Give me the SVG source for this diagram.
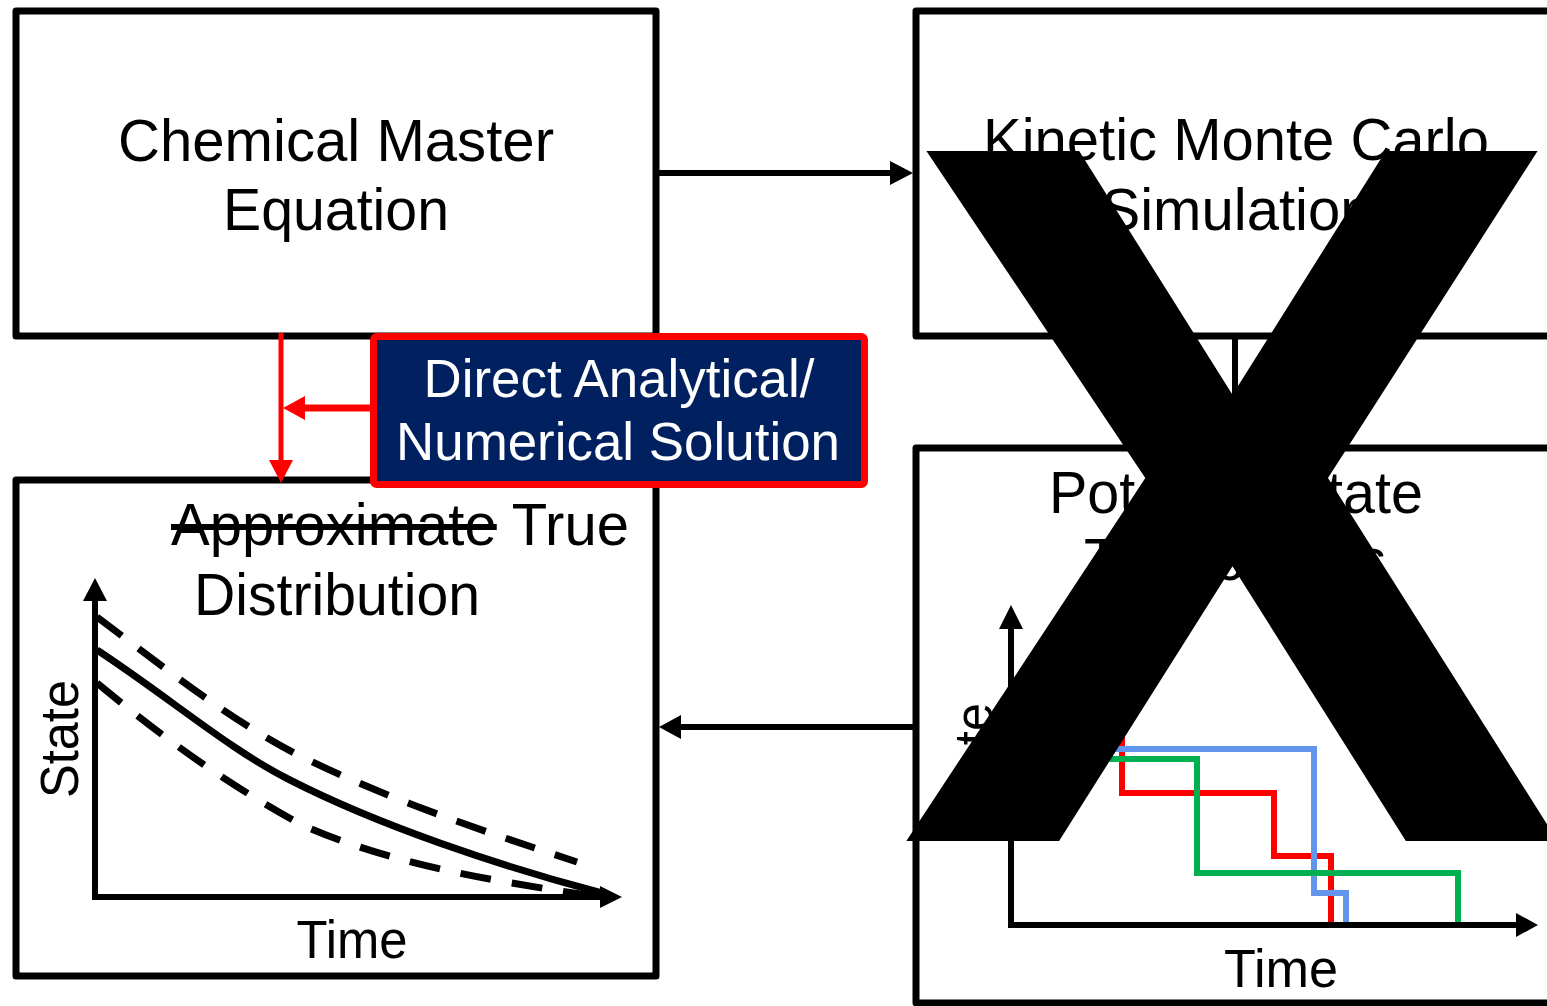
<svg xmlns="http://www.w3.org/2000/svg" width="1547" height="1006" viewBox="0 0 1547 1006">
  <style>
    .box { fill: #ffffff; stroke: #000000; stroke-width: 7; stroke-linejoin: round; }
    .lbl { font-family: "Liberation Sans", Arial, sans-serif; font-size: 60px; fill: #000000; text-anchor: middle; }
    .axl { font-family: "Liberation Sans", Arial, sans-serif; font-size: 53px; fill: #000000; text-anchor: middle; }
    .wht { font-family: "Liberation Sans", Arial, sans-serif; font-size: 53px; fill: #ffffff; text-anchor: middle; }
    .conn { stroke: #000000; stroke-width: 6; fill: none; }
    .red { stroke: #ff0000; fill: none; }
    .axis { stroke: #000000; stroke-width: 6; fill: none; }
    .curve { stroke: #000000; stroke-width: 7; fill: none; }
    .dash { stroke: #000000; stroke-width: 7; fill: none; stroke-dasharray: 31 21; }
    .traj { stroke-width: 6; fill: none; }
  </style>

  <rect width="1547" height="1006" fill="#ffffff"/>

  <!-- Chemical Master Equation -->
  <g id="cme">
    <rect class="box" x="16" y="11" width="640" height="325"/>
    <text class="lbl" x="336" y="161" textLength="436" lengthAdjust="spacingAndGlyphs">Chemical Master</text>
    <text class="lbl" x="336" y="230" textLength="226" lengthAdjust="spacingAndGlyphs">Equation</text>
  </g>

  <!-- Kinetic Monte Carlo Simulation -->
  <g id="kmc">
    <rect class="box" x="916" y="11" width="640" height="325"/>
    <text class="lbl" x="1236" y="160" textLength="506" lengthAdjust="spacingAndGlyphs">Kinetic Monte Carlo</text>
    <text class="lbl" x="1237" y="230" textLength="271" lengthAdjust="spacingAndGlyphs">Simulation</text>
  </g>

  <!-- True Distribution -->
  <g id="distribution">
    <rect class="box" x="16" y="480" width="640" height="496"/>
    <text class="lbl" x="171" y="545" style="text-anchor:start" textLength="458" lengthAdjust="spacingAndGlyphs"><tspan text-decoration="line-through">Approximate</tspan> True</text>
    <text class="lbl" x="337" y="615" textLength="286" lengthAdjust="spacingAndGlyphs">Distribution</text>
    <!-- axes -->
    <line class="axis" x1="95" y1="897" x2="95" y2="598"/>
    <polygon points="95,578 83,601 107,601" fill="#000000"/>
    <line class="axis" x1="92" y1="897" x2="602" y2="897"/>
    <polygon points="622,897 600,886 600,908" fill="#000000"/>
    <!-- mean and spread -->
    <path class="curve" d="M97,650 C170,698 230,750 290,780 C380,826 500,866 602,893"/>
    <path class="dash" d="M97,617 C170,672 230,720 300,756 C390,800 480,830 577,862"/>
    <path class="dash" d="M97,683 C160,735 220,780 300,824 C380,860 470,878 600,897"/>
    <text class="axl" transform="translate(78,739) rotate(-90)" textLength="118" lengthAdjust="spacingAndGlyphs">State</text>
    <text class="axl" x="352" y="958" textLength="111" lengthAdjust="spacingAndGlyphs">Time</text>
  </g>

  <!-- Potential State Trajectories -->
  <g id="trajectories">
    <rect class="box" x="916" y="448" width="640" height="555"/>
    <text class="lbl" x="1236" y="513" textLength="374" lengthAdjust="spacingAndGlyphs">Potential State</text>
    <text class="lbl" x="1235" y="580" textLength="302" lengthAdjust="spacingAndGlyphs">Trajectories</text>
    <text class="axl" transform="translate(992,762) rotate(-90)" textLength="118" lengthAdjust="spacingAndGlyphs">State</text>
    <!-- sampled runs -->
    <path class="traj" stroke="#ff0000" d="M1012,680 H1122 V793 H1274 V856 H1331 V925"/>
    <path class="traj" stroke="#6495ed" d="M1012,749 H1314 V893 H1346 V925"/>
    <path class="traj" stroke="#00b050" d="M1012,759 H1197 V873 H1458 V925"/>
    <!-- axes -->
    <line class="axis" x1="1011" y1="928" x2="1011" y2="625"/>
    <polygon points="1011,605 999,629 1023,629" fill="#000000"/>
    <line class="axis" x1="1008" y1="925" x2="1518" y2="925"/>
    <polygon points="1538,925 1516,913 1516,937" fill="#000000"/>
    <text class="axl" x="1281" y="987" textLength="114" lengthAdjust="spacingAndGlyphs">Time</text>
  </g>

  <!-- Connectors -->
  <g id="connectors">
    <line class="conn" x1="656" y1="173" x2="892" y2="173"/>
    <polygon points="913,173 890,161 890,185" fill="#000000"/>
    <line class="conn" x1="1235" y1="336" x2="1235" y2="424"/>
    <polygon points="1235,445 1223,422 1247,422" fill="#000000"/>
    <line class="conn" x1="916" y1="727" x2="678" y2="727"/>
    <polygon points="659,727 681,715 681,739" fill="#000000"/>
    <line class="red" stroke-width="5" x1="281" y1="333" x2="281" y2="462"/>
    <polygon points="281,483 269,460 293,460" fill="#ff0000"/>
    <line class="red" stroke-width="7" x1="370" y1="408" x2="303" y2="408"/>
    <polygon points="283,408 305,396 305,420" fill="#ff0000"/>
  </g>

  <!-- Direct Analytical / Numerical Solution -->
  <g id="solution">
    <rect x="373.5" y="336.5" width="491" height="148" rx="3" fill="#002060" stroke="#ff0000" stroke-width="7"/>
    <text class="wht" x="619" y="397" textLength="391" lengthAdjust="spacingAndGlyphs">Direct Analytical/</text>
    <text class="wht" x="618" y="460" textLength="444" lengthAdjust="spacingAndGlyphs">Numerical Solution</text>
  </g>

  <!-- Cross-out over the simulation branch -->
  <g id="crossout">
    <text x="1232" y="841" font-family="Liberation Sans, Arial, sans-serif" font-weight="bold" font-size="1003" text-anchor="middle" fill="#000000">X</text>
  </g>
</svg>
